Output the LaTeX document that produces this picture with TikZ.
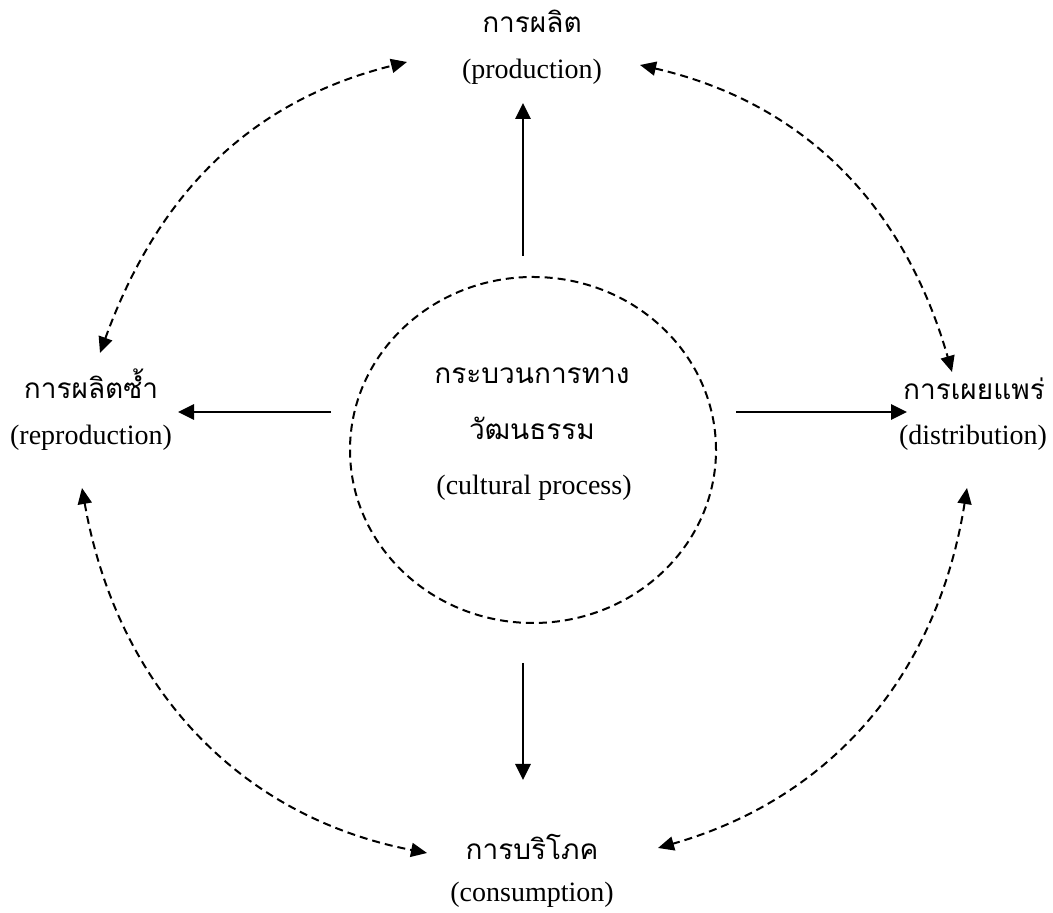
\documentclass[tikz,border=0pt]{standalone}
\usepackage{fontspec}
\setmainfont{Liberation Serif}
\newfontfamily\thaifont[Script=Thai]{Loma}
\usetikzlibrary{arrows.meta,shapes.geometric}
\tikzset{
  thai/.style={anchor=base, inner sep=0pt, font=\thaifont\fontsize{14}{16}\selectfont},
  eng/.style={anchor=base, inner sep=0pt, font=\fontsize{14}{16}\selectfont},
  flow/.style={line width=1.4pt, -{Triangle[length=8pt,width=7.5pt]}},
  link/.style={line width=1pt, dash pattern=on 4pt off 2.5pt,
    {Triangle[length=8pt,width=7pt]}-{Triangle[length=8pt,width=7pt]}},
  ring/.style={draw, ellipse, line width=1pt, dash pattern=on 4pt off 2.5pt,
    minimum width=183pt, minimum height=173pt, inner sep=0pt}
}

\begin{document}
\begin{tikzpicture}[x=0.5pt,y=0.5pt]
		%%%%% START %%%%%
		\useasboundingbox (0,0) rectangle (1053,913);
		
		\node[ring] (proc) at (533,463) {};
		\node[thai] (procA) at (532,529) {กระบวนการทาง};
		\node[thai] (procB) at (532,473) {วัฒนธรรม};
		\node[eng] (procC) at (534,418) {(cultural process)};
		
		\node[thai] (prodTh) at (532,880) {การผลิต};
		\node[eng] (prodEn) at (532,834) {(production)};
		
		\node[thai] (reprTh) at (91,514) {การผลิตซ้ำ};
		\node[eng] (reprEn) at (91,468) {(reproduction)};
		
		\node[thai] (distTh) at (974,513) {การเผยแพร่};
		\node[eng] (distEn) at (973,468) {(distribution)};
		
		\node[thai] (consTh) at (532,53) {การบริโภค};
		\node[eng] (consEn) at (532,11) {(consumption)};
		
		\draw[flow] ([shift={(-10,20)}]proc.north) -- ([shift={(-9,-24)}]prodEn.base);
		\draw[flow] ([shift={(-10,-39)}]proc.south) -- ([shift={(-9,80)}]consTh.base);
		\draw[flow] ([shift={(-18,38)}]proc.west) -- ([shift={(87,-13)}]reprTh.base);
		\draw[flow] ([shift={(19,38)}]proc.east) -- ([shift={(-67,-12)}]distTh.base);
		
		\coordinate (prodL) at (407,851);
		\coordinate (prodR) at (640,848);
		\coordinate (reprT) at (100,560);
		\coordinate (reprB) at (82,425);
		\coordinate (distT) at (952,541);
		\coordinate (distB) at (967,425);
		\coordinate (consL) at (427,60);
		\coordinate (consR) at (658,65);
		
		\draw[link] (reprT) to[out=70,in=194] (prodL);
		\draw[link] (prodR) to[out=-13,in=106] (distT);
		\draw[link] (reprB) to[out=-80,in=169] (consL);
		\draw[link] (distB) to[out=-99,in=16] (consR);
		
		%%%%% END %%%%%
	\end{tikzpicture}
\end{document}
